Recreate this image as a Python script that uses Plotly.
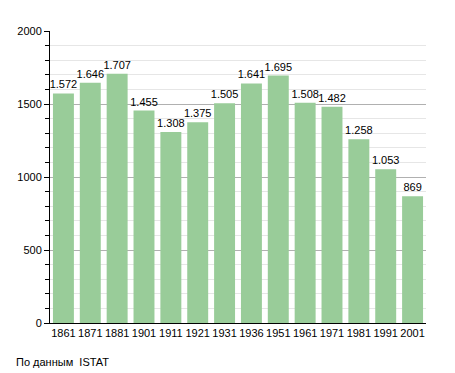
import plotly.graph_objects as go

years = ["1861", "1871", "1881", "1901", "1911", "1921", "1931", "1936", "1951", "1961", "1971", "1981", "1991", "2001"]
population = [1572, 1646, 1707, 1455, 1308, 1375, 1505, 1641, 1695, 1508, 1482, 1258, 1053, 869]
labels = ["1.572", "1.646", "1.707", "1.455", "1.308", "1.375", "1.505", "1.641", "1.695", "1.508", "1.482", "1.258", "1.053", "869"]

fig = go.Figure(go.Bar(
    x=years, y=population, text=labels, textposition="outside",
    textfont=dict(size=11, color="black"),
    marker=dict(color="#99cc99", line=dict(width=0)),
    cliponaxis=False,
))

fig.update_layout(
    width=455, height=373,
    margin=dict(l=50, r=29, t=31, b=50),
    paper_bgcolor="white", plot_bgcolor="white",
    font=dict(family="Liberation Sans, Arial, sans-serif", size=11, color="black"),
    bargap=0.22,
    showlegend=False,
    uniformtext=dict(minsize=11, mode="show"),
    xaxis=dict(showline=True, linecolor="black", linewidth=1, ticks="", tickfont=dict(size=11)),
    yaxis=dict(range=[0, 2000], dtick=500, showline=True, linecolor="black", linewidth=1,
               ticks="outside", ticklen=5, tickcolor="black",
               showgrid=True, gridcolor="#b0b0b0", gridwidth=1,
               zeroline=False,
               minor=dict(dtick=100, ticks="outside", ticklen=4, tickcolor="black",
                          showgrid=True, gridcolor="#e6e6e6", gridwidth=1)),
    annotations=[dict(text="По данным  ISTAT", xref="paper", yref="paper", x=-0.095, y=-0.105,
                      xanchor="left", yanchor="top", showarrow=False, font=dict(size=11))],
)

fig.write_html("out.html", config={"displayModeBar": False},
               post_script="document.body.style.margin='0';document.body.style.overflow='hidden';")
